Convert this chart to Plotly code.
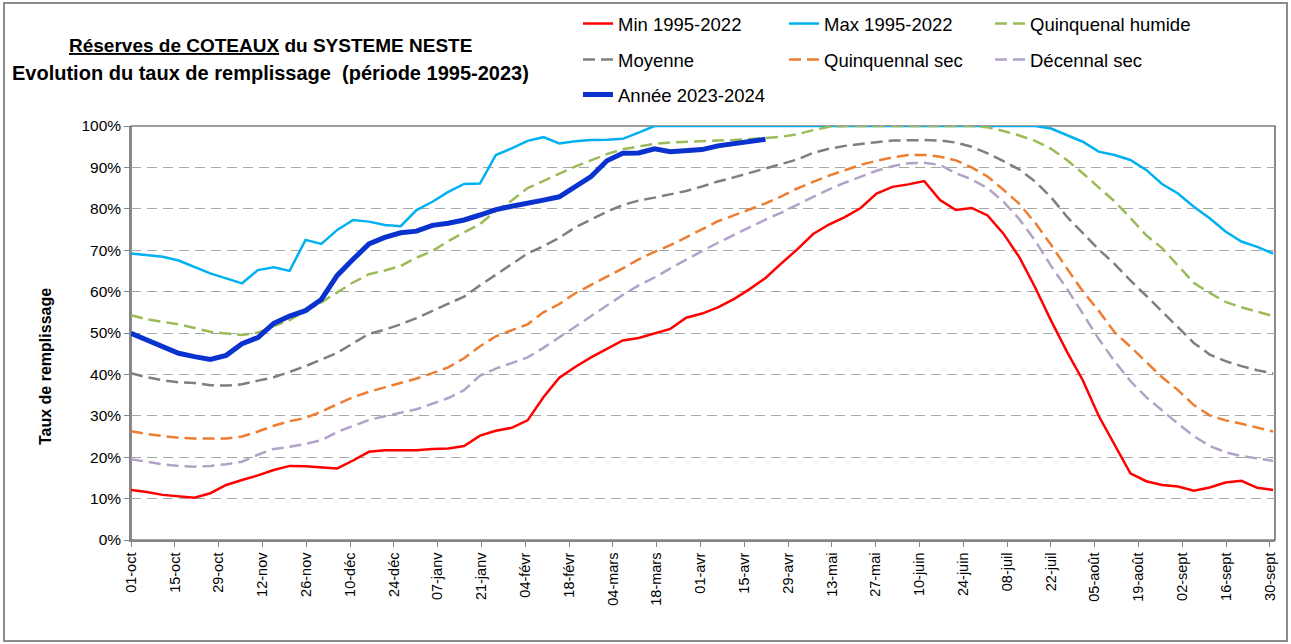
import plotly.graph_objects as go

# 73 points, one every ~5 days from 01-oct to 30-sept
days = [i * 365 / 72 for i in range(73)]

tick_labels = ["01-oct", "15-oct", "29-oct", "12-nov", "26-nov", "10-déc", "24-déc",
               "07-janv", "21-janv", "04-févr", "18-févr", "04-mars", "18-mars",
               "01-avr", "15-avr", "29-avr", "13-mai", "27-mai", "10-juin", "24-juin",
               "08-juil", "22-juil", "05-août", "19-août", "02-sept", "16-sept", "30-sept"]
tick_days = [14 * i for i in range(len(tick_labels))]

y_ticks = [0, 10, 20, 30, 40, 50, 60, 70, 80, 90, 100]
y_labels = ["0%", "10%", "20%", "30%", "40%", "50%", "60%", "70%", "80%", "90%", "100%"]

min_vals = [12.1, 11.6, 10.9, 10.5, 10.2, 11.3, 13.3, 14.5, 15.6, 16.9,
            17.9, 17.8, 17.5, 17.3, 19.2, 21.3, 21.7, 21.7, 21.7, 22.0,
            22.1, 22.7, 25.2, 26.4, 27.1, 28.9, 34.5, 39.2, 41.8, 44.1,
            46.2, 48.2, 48.8, 49.9, 51.0, 53.7, 54.7, 56.2, 58.2, 60.6,
            63.3, 66.8, 70.2, 73.9, 76.2, 78.0, 80.2, 83.7, 85.3, 85.9,
            86.7, 82.1, 79.7, 80.2, 78.4, 74.0, 68.3, 61.0, 53.0, 45.5,
            38.6, 30.0, 23.0, 16.1, 14.2, 13.3, 12.9, 11.9, 12.7, 13.9,
            14.3, 12.6, 12.1]

max_vals = [69.2, 68.8, 68.4, 67.5, 66.0, 64.4, 63.2, 62.0, 65.2, 65.9,
            65.0, 72.5, 71.5, 74.9, 77.3, 76.9, 76.1, 75.8, 79.7, 81.7,
            84.1, 86.0, 86.1, 93.0, 94.6, 96.4, 97.3, 95.8, 96.3, 96.6,
            96.7, 96.9, 98.4, 100, 100, 100, 100, 100, 100, 100,
            100, 100, 100, 100, 100, 100, 100, 100, 100, 100,
            100, 100, 100, 100, 100, 100, 100, 100, 99.4, 97.8,
            96.2, 93.8, 93.0, 91.8, 89.4, 86.0, 83.7, 80.5, 77.7, 74.5,
            72.1, 70.8, 69.2]

humide_vals = [54.3, 53.3, 52.7, 52.1, 51.2, 50.3, 49.9, 49.5, 50.1, 51.7,
               53.1, 55.4, 57.4, 59.8, 62.2, 64.2, 65.1, 66.2, 68.2, 69.8,
               72.2, 74.3, 76.3, 79.5, 82.0, 85.0, 86.8, 88.6, 90.2, 91.7,
               93.2, 94.4, 95.1, 95.7, 96.0, 96.2, 96.3, 96.5, 96.6, 96.8,
               97.1, 97.4, 98.0, 99.0, 99.8, 100, 100, 100, 100, 100,
               100, 100, 100, 100, 99.7, 98.8, 97.7, 96.4, 94.5, 91.8,
               88.6, 85.1, 81.8, 77.8, 73.6, 70.5, 66.4, 62.1, 59.7, 57.5,
               56.2, 55.2, 54.1]

moyenne_vals = [40.3, 39.3, 38.6, 38.1, 37.9, 37.4, 37.3, 37.6, 38.5, 39.3,
                40.6, 42.0, 43.6, 45.2, 47.5, 49.8, 50.8, 52.1, 53.6, 55.3,
                56.9, 58.8, 61.5, 64.0, 66.6, 69.2, 71.0, 73.0, 75.5, 77.4,
                79.3, 80.9, 82.0, 82.7, 83.5, 84.3, 85.4, 86.6, 87.6, 88.7,
                89.8, 90.8, 91.9, 93.5, 94.5, 95.2, 95.7, 96.1, 96.5, 96.6,
                96.6, 96.5, 96.0, 95.0, 93.4, 91.5, 89.5, 86.6, 82.8, 78.1,
                74.1, 70.2, 66.7, 62.7, 59.0, 55.2, 51.2, 47.6, 44.8, 43.2,
                42.0, 41.0, 40.3]

sec5_vals = [26.3, 25.6, 25.1, 24.7, 24.5, 24.5, 24.5, 25.0, 26.2, 27.6,
             28.7, 29.5, 31.0, 32.8, 34.5, 35.8, 36.9, 37.9, 39.0, 40.3,
             41.7, 43.9, 46.8, 49.2, 50.6, 52.1, 55.0, 57.0, 59.6, 61.7,
             63.6, 65.6, 67.8, 69.6, 71.2, 73.1, 75.1, 77.0, 78.4, 79.9,
             81.3, 83.0, 84.9, 86.5, 88.0, 89.3, 90.6, 91.6, 92.4, 93.0,
             93.0, 92.6, 91.7, 90.0, 87.8, 84.6, 81.2, 76.6, 71.3, 65.6,
             60.1, 55.4, 50.2, 46.7, 42.9, 39.3, 36.2, 32.6, 30.1, 28.9,
             28.1, 27.2, 26.2]

sec10_vals = [19.5, 18.9, 18.3, 17.9, 17.7, 17.9, 18.3, 18.9, 20.6, 22.0,
              22.5, 23.2, 24.1, 26.1, 27.5, 29.0, 29.9, 30.7, 31.6, 32.9,
              34.3, 36.2, 39.7, 41.4, 42.7, 44.1, 46.4, 49.0, 51.4, 54.0,
              56.7, 59.2, 61.5, 63.4, 65.6, 67.8, 69.8, 71.8, 73.7, 75.6,
              77.4, 79.1, 80.9, 82.9, 84.7, 86.3, 87.8, 89.2, 90.3, 91.0,
              91.1, 90.6, 88.6, 87.1, 85.0, 81.7, 77.5, 72.3, 66.2, 60.7,
              54.7, 48.6, 43.2, 38.4, 34.5, 31.2, 28.1, 25.1, 22.7, 21.2,
              20.3, 19.7, 19.1]

annee_vals = [49.9, 48.3, 46.7, 45.1, 44.3, 43.6, 44.6, 47.4, 48.9, 52.3,
              54.1, 55.4, 58.1, 63.9, 67.8, 71.5, 73.1, 74.2, 74.6, 76.0,
              76.5, 77.3, 78.5, 79.8, 80.6, 81.2, 82.1, 82.9, 85.5, 87.8,
              91.6, 93.4, 93.5, 94.5, 93.8, 93.9, 94.3, 95.2, 95.7, 96.5,
              96.8]

FONT = "Liberation Sans"
DASH = "12px,6px"

series = [
    ("Min 1995-2022", min_vals, "#FF0000", "solid", 2.5, "legend"),
    ("Max 1995-2022", max_vals, "#00B0F0", "solid", 2.5, "legend"),
    ("Quinquenal humide", humide_vals, "#9BBB59", DASH, 2.5, "legend"),
    ("Moyenne", moyenne_vals, "#7F7F7F", DASH, 2.5, "legend2"),
    ("Quinquennal sec", sec5_vals, "#ED7D31", DASH, 2.5, "legend2"),
    ("Décennal sec", sec10_vals, "#B3A2C7", DASH, 2.5, "legend2"),
    ("Année 2023-2024", annee_vals, "#0A32CF", "solid", 5, "legend3"),
]

fig = go.Figure()
for name, vals, color, dash, width, leg in series:
    fig.add_trace(go.Scatter(
        x=days[:len(vals)], y=vals, name=name, mode="lines",
        line=dict(color=color, dash=dash, width=width),
        legend=leg,
    ))

L, R, T, B = 131, 16, 126, 104
W, H = 1291, 644
pw, ph = W - L - R, H - T - B


def px_x(px):
    return (px - L) / pw


def px_y(py):
    return (H - B - py) / ph


legend_common = dict(orientation="h", xanchor="left", yanchor="middle",
                     entrywidth=161, font=dict(family=FONT, size=18.5, color="#000000"),
                     bgcolor="rgba(0,0,0,0)", itemwidth=30, tracegroupgap=0)

fig.update_layout(
    width=W, height=H,
    margin=dict(l=L, r=R, t=T, b=B, autoexpand=False),
    paper_bgcolor="white", plot_bgcolor="white",
    font=dict(family=FONT, color="#000000"),
    legend=dict(x=px_x(578), y=px_y(24), **legend_common),
    legend2=dict(x=px_x(578), y=px_y(60), **legend_common),
    legend3=dict(x=px_x(578), y=px_y(95), **legend_common),
    xaxis=dict(
        range=[0, 365.6], tickmode="array", tickvals=tick_days, ticktext=tick_labels,
        tickangle=-90, tickfont=dict(family=FONT, size=14.5, color="#000000"),
        ticks="outside", ticklen=5, tickcolor="#868686",
        showgrid=False, showline=True, linecolor="#868686", linewidth=1.5,
        zeroline=False, automargin=False,
    ),
    yaxis=dict(
        range=[0, 100], tickmode="array", tickvals=y_ticks, ticktext=y_labels,
        tickfont=dict(family=FONT, size=15.5, color="#000000"),
        ticks="outside", ticklen=5, tickcolor="#868686",
        showgrid=True, gridcolor="#A6A6A6", gridwidth=1.3, griddash="10px,6px",
        showline=True, linecolor="#868686", linewidth=1.5, zeroline=False,
        automargin=False,
    ),
)

# plot frame and outer chart border
fig.add_shape(type="rect", xref="paper", yref="paper", x0=0, x1=1, y0=0, y1=1,
              line=dict(color="#404040", width=1.2), layer="below")
fig.add_shape(type="rect", xref="paper", yref="paper",
              x0=px_x(4), x1=px_x(1287), y0=px_y(641), y1=px_y(3),
              line=dict(color="#8C8C8C", width=2), layer="below")

# titles
fig.add_annotation(text="<b><u>Réserves de COTEAUX</u> du SYSTEME NESTE</b>",
                   xref="paper", yref="paper", x=px_x(270), y=px_y(45),
                   xanchor="center", yanchor="middle", showarrow=False,
                   font=dict(family=FONT, size=19, color="#000000"))
fig.add_annotation(text="<b>Evolution du taux de remplissage &nbsp;(période 1995-2023)</b>",
                   xref="paper", yref="paper", x=px_x(270), y=px_y(73),
                   xanchor="center", yanchor="middle", showarrow=False,
                   font=dict(family=FONT, size=20, color="#000000"))
fig.add_annotation(text="<b>Taux de remplissage</b>", textangle=-90,
                   xref="paper", yref="paper", x=px_x(45), y=px_y(367),
                   xanchor="center", yanchor="middle", showarrow=False,
                   font=dict(family=FONT, size=16, color="#000000"))

# page body has a default 8px margin; drop it so the figure fills the window
fig.write_html("out.html", config={"displayModeBar": False},
               post_script="document.body.style.margin = '0';")
